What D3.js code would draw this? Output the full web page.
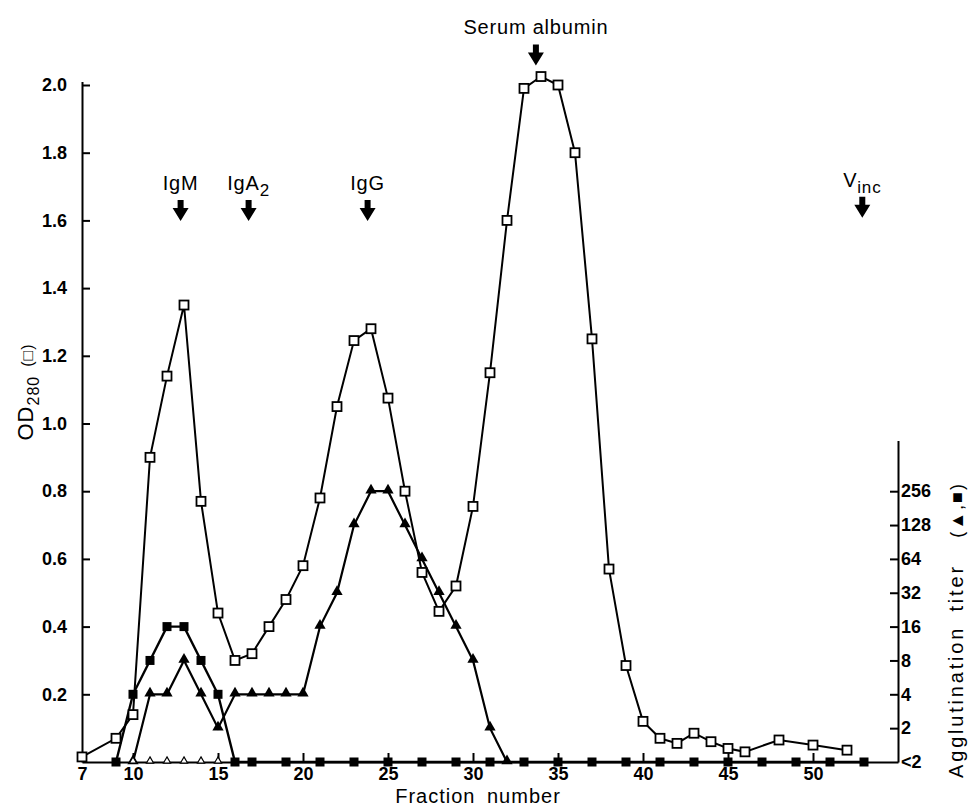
<!DOCTYPE html>
<html>
<head>
<meta charset="utf-8">
<script src="https://cdn.jsdelivr.net/npm/d3@7"></script>
<style>
body { margin: 0; background: #fff; }
text { font-family: "Liberation Sans", Arial, sans-serif; fill: #000; }
</style>
</head>
<body>
<div id="chart"></div>
<script>
// values
var odFractions = [7, 9, 10, 11, 12, 13, 14, 15, 16, 17, 18, 19, 20, 21, 22, 23, 24, 25, 26, 27, 28, 29, 30,
    31, 32, 33, 34, 35, 36, 37, 38, 39, 40, 41, 42, 43, 44, 45, 46, 48, 50, 52];
var odValues = [0.015, 0.07, 0.14, 0.90, 1.14, 1.35, 0.77, 0.44, 0.30, 0.32, 0.40, 0.48, 0.58, 0.78, 1.05, 1.245, 1.28, 1.075, 0.80, 0.56, 0.445, 0.52, 0.755,
    1.15, 1.60, 1.99, 2.025, 2.00, 1.80, 1.25, 0.57, 0.285, 0.12, 0.07, 0.055, 0.085, 0.06, 0.04, 0.03, 0.065, 0.05, 0.035];

// agglutination titers, 1 stands for "<2"
var squareFractions = [9, 10, 11, 12, 13, 14, 15, 16, 17, 19, 21, 23, 25, 27, 29, 31, 33, 35, 37, 39, 41, 43, 45, 47, 49, 51, 53];
var squareTiters = [1, 4, 8, 16, 16, 8, 4, 1, 1, 1, 1, 1, 1, 1, 1, 1, 1, 1, 1, 1, 1, 1, 1, 1, 1, 1, 1];
var triangleFractions = [10, 11, 12, 13, 14, 15, 16, 17, 18, 19, 20, 21, 22, 23, 24, 25, 26, 27, 28, 29, 30, 31, 32];
var triangleTiters = [1, 4, 4, 8, 4, 2, 4, 4, 4, 4, 4, 16, 32, 128, 256, 256, 128, 64, 32, 16, 8, 2, 1];
var openTriangleFractions = [10, 11, 12, 13, 14, 15];
var openTriangleTiters = [1, 1, 1, 1, 1, 1];

// axis ticks
var xTicks = [7, 10, 15, 20, 25, 30, 35, 40, 45, 50];
var odTicks = [0.2, 0.4, 0.6, 0.8, 1.0, 1.2, 1.4, 1.6, 1.8, 2.0];
var titerTicks = [1, 2, 4, 8, 16, 32, 64, 128, 256];
var titerLabels = ["<2", "2", "4", "8", "16", "32", "64", "128", "256"];

// elution markers (arrows), level is where the arrow starts in OD units
var markerNames = ["IgM", "IgA", "IgG", "Serum albumin", "V"];
var markerSubs = ["", "2", "", "", "inc"];
var markerFractions = [12.8, 16.8, 23.8, 33.7, 52.9];
var markerLevels = [1.66, 1.66, 1.66, 2.12, 1.67];

var width = 969;
var height = 812;
var svg = d3.select("#chart")
    .append("svg")
    .attr("width", width)
    .attr("height", height);

var x = d3.scaleLinear().domain([7, 55]).range([82, 898]);
var y = d3.scaleLinear().domain([0, 2.01]).range([762, 762 - 2.01 * 338.5]);
// titer axis: one doubling = 0.1 OD units
var yT = d3.scaleLog().base(2).domain([1, Math.pow(2, 9.5)]).range([y(0), y(0.95)]);

// left axis
var leftAxis = svg.append("g")
    .attr("transform", "translate(" + x(7) + ",0)")
    .call(d3.axisLeft(y).tickValues(odTicks).tickFormat(d3.format(".1f")).tickSize(-8).tickSizeOuter(0).tickPadding(15));

// bottom axis
var bottomAxis = svg.append("g")
    .attr("transform", "translate(0," + y(0) + ")")
    .call(d3.axisBottom(x).tickValues(xTicks).tickSize(-9).tickSizeOuter(0).tickPadding(5));
bottomAxis.selectAll(".tick").filter(function (d) { return d == 7; }).select("line").remove();

// right axis
var rightAxis = svg.append("g")
    .attr("transform", "translate(" + x(55) + ",0)")
    .call(d3.axisRight(yT).tickValues(titerTicks).tickFormat(function (d, i) { return titerLabels[i]; })
        .tickSize(-8).tickSizeOuter(0).tickPadding(3));
rightAxis.selectAll(".tick").filter(function (d) { return d == 1; }).select("line").remove();

[leftAxis, bottomAxis, rightAxis].forEach(function (a) {
    a.selectAll("path, line").attr("stroke", "#000").attr("stroke-width", 2);
    a.selectAll("text")
        .style("font-family", "'Liberation Sans', Arial, sans-serif")
        .style("font-weight", "bold")
        .style("font-size", "18px")
        .attr("fill", "#000");
});

// lines
var odData = odFractions.map(function (f, i) { return [f, odValues[i]]; });
var sqData = squareFractions.map(function (f, i) { return [f, squareTiters[i]]; });
var trData = triangleFractions.map(function (f, i) { return [f, triangleTiters[i]]; });
var otData = openTriangleFractions.map(function (f, i) { return [f, openTriangleTiters[i]]; });

var odLine = d3.line().x(function (d) { return x(d[0]); }).y(function (d) { return y(d[1]); });
var titerLine = d3.line().x(function (d) { return x(d[0]); }).y(function (d) { return yT(d[1]); });

svg.append("path").datum(sqData).attr("d", titerLine)
    .attr("fill", "none").attr("stroke", "#000").attr("stroke-width", 2.4);
svg.append("path").datum(trData).attr("d", titerLine)
    .attr("fill", "none").attr("stroke", "#000").attr("stroke-width", 2.2);
svg.append("path").datum(odData).attr("d", odLine)
    .attr("fill", "none").attr("stroke", "#000").attr("stroke-width", 2);

// markers
var tri = d3.symbol().type(d3.symbolTriangle);

svg.selectAll(".sq").data(sqData).enter().append("rect")
    .attr("x", function (d) { return x(d[0]) - 4.5; })
    .attr("y", function (d) { return yT(d[1]) - 4.5; })
    .attr("width", 9).attr("height", 9)
    .attr("fill", "#000");

svg.selectAll(".tr").data(trData).enter().append("path")
    .attr("d", tri.size(55))
    .attr("transform", function (d) { return "translate(" + x(d[0]) + "," + (yT(d[1]) - 1) + ")"; })
    .attr("fill", "#000");

svg.selectAll(".ot").data(otData).enter().append("path")
    .attr("d", tri.size(22))
    .attr("transform", function (d) { return "translate(" + x(d[0]) + "," + (yT(d[1]) - 1) + ")"; })
    .attr("fill", "#fff").attr("stroke", "#000").attr("stroke-width", 1.2);

svg.selectAll(".od").data(odData).enter().append("rect")
    .attr("x", function (d) { return x(d[0]) - 4.5; })
    .attr("y", function (d) { return y(d[1]) - 4.5; })
    .attr("width", 9).attr("height", 9)
    .attr("fill", "#fff").attr("stroke", "#000").attr("stroke-width", 1.8);

// elution arrows and their names
markerNames.forEach(function (name, i) {
    var cx = x(markerFractions[i]);
    var top = y(markerLevels[i]);
    svg.append("path")
        .attr("d", "M" + (cx - 3) + "," + top + "h6v8h5l-8,13l-8,-13h5z")
        .attr("fill", "#000");
    var t = svg.append("text")
        .attr("x", cx)
        .attr("y", top - 10)
        .attr("text-anchor", "middle")
        .style("font-size", "20px")
        .style("letter-spacing", "0.8px")
        .text(name);
    if (markerSubs[i] != "") {
        t.append("tspan")
            .attr("dy", 6)
            .style("font-size", "17px")
            .text(markerSubs[i]);
    }
});

// axis titles
svg.append("text")
    .attr("x", 478)
    .attr("y", 803)
    .attr("text-anchor", "middle")
    .style("font-size", "20px")
    .style("letter-spacing", "1px")
    .style("word-spacing", "5px")
    .text("Fraction number");

var odTitle = svg.append("text")
    .attr("transform", "translate(33,392) rotate(-90)")
    .attr("text-anchor", "middle")
    .style("font-size", "22px")
    .style("letter-spacing", "1px")
    .text("OD");
odTitle.append("tspan").attr("dy", 6).style("font-size", "16px").text("280");
odTitle.append("tspan").attr("dy", -6).attr("dx", 9).style("font-size", "16px").text("(□)");

var tTitle = svg.append("text")
    .attr("transform", "translate(963,630) rotate(-90)")
    .attr("text-anchor", "middle")
    .style("font-size", "20px")
    .style("letter-spacing", "2.8px")
    .style("word-spacing", "6px")
    .text("Agglutination titer ");
tTitle.append("tspan").attr("dx", 12).style("font-size", "18px").style("letter-spacing", "2px").text("(▲,■)");
</script>
</body>
</html>
